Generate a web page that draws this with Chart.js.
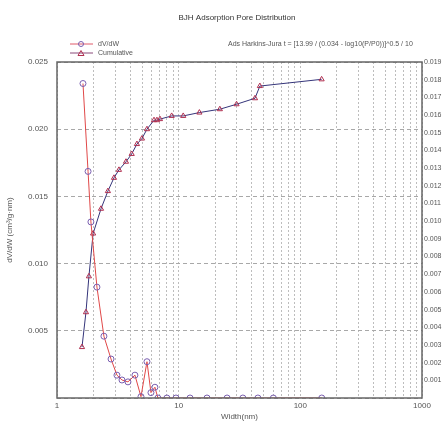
<!DOCTYPE html>
<html>
<head>
<meta charset="utf-8">
<script src="https://cdn.jsdelivr.net/npm/chart.js@4/dist/chart.umd.min.js"></script>
<style>
  html, body { margin: 0; padding: 0; background: #fff; }
  #wrap { width: 445px; height: 424px; position: relative; }
</style>
</head>
<body>
<div id="wrap"><canvas id="poreChart"></canvas></div>
<script>
  'use strict';

  // BJH adsorption pore distribution
  var titleText = 'BJH Adsorption Pore Distribution';
  var noteText = 'Ads Harkins-Jura t = [13.99 / (0.034 - log10(P/P0))]^0.5 / 10';

  var dvdwWidth = [1.635, 1.80, 1.90, 2.13, 2.43, 2.78, 3.11, 3.42, 3.83, 4.37, 4.90, 5.49, 5.92, 6.38,
    6.75, 8.0, 9.5, 12.4, 17.1, 25, 33.7, 44.8, 60, 150];
  var dvdwValues = [0.0234, 0.01686, 0.0131, 0.00825, 0.0046, 0.0029, 0.0017, 0.00134, 0.0012, 0.0017,
    0.0001, 0.0027, 0.0004, 0.0008, 0, 0, 0, 0, 0, 0, 0, 0, 0, 0];

  var cumWidth = [1.605, 1.73, 1.83, 1.98, 2.30, 2.62, 2.94, 3.23, 3.69, 4.11, 4.54, 4.99, 5.49, 6.27,
    6.63, 7.02, 8.76, 10.9, 14.8, 21.8, 29.9, 42.4, 46.5, 149.6];
  var cumValues = [0.00288, 0.00485, 0.00688, 0.0093, 0.0107, 0.0117, 0.01245, 0.0129, 0.01336, 0.0138,
    0.01436, 0.01467, 0.0152, 0.01571, 0.01571, 0.01577, 0.01595, 0.01595, 0.01614, 0.01633, 0.01661,
    0.01695, 0.01764, 0.01802];

  var xTickValues = [1, 2, 3, 4, 5, 6, 7, 8, 9, 10, 20, 30, 40, 50, 60, 70, 80, 90,
    100, 200, 300, 400, 500, 600, 700, 800, 900, 1000];
  var xTickLabels = { 1: '1', 10: '10', 100: '100', 1000: '1000' };

  function pairs(xs, ys) {
    return xs.map(function (x, i) { return { x: x, y: ys[i] }; });
  }

  var textColor = '#555';
  var font = { family: 'Liberation Sans, Arial, sans-serif', size: 8 };

  var decorPlugin = {
    id: 'decor',
    afterDraw: function (chart) {
      var c = chart.ctx;
      var a = chart.chartArea;
      c.save();
      // frame
      c.strokeStyle = '#666';
      c.lineWidth = 1.5;
      c.strokeRect(a.left, a.top, a.right - a.left, a.bottom - a.top);

      c.fillStyle = '#333';
      c.font = '8px ' + font.family;
      c.textBaseline = 'middle';
      c.textAlign = 'center';
      c.fillText(titleText, 237, 18);

      c.fillStyle = textColor;
      c.font = '7px ' + font.family;
      c.textAlign = 'left';
      c.fillText(noteText, 228, 44);

      // legend
      c.lineWidth = 1;
      c.strokeStyle = '#e05a6a';
      c.beginPath(); c.moveTo(70, 44); c.lineTo(93, 44); c.stroke();
      c.strokeStyle = '#7a5fb0';
      c.beginPath(); c.arc(81, 44, 2.5, 0, Math.PI * 2); c.stroke();
      c.strokeStyle = '#8a4a7a';
      c.beginPath(); c.moveTo(70, 53); c.lineTo(93, 53); c.stroke();
      c.strokeStyle = '#b03050';
      c.beginPath(); c.moveTo(81, 50.5); c.lineTo(84, 55.5); c.lineTo(78, 55.5); c.closePath(); c.stroke();
      c.fillStyle = textColor;
      c.fillText('dV/dW', 98, 44);
      c.fillText('Cumulative', 98, 53);
      c.restore();
    }
  };

  new Chart(document.getElementById('poreChart'), {
    type: 'line',
    data: {
      datasets: [
        {
          label: 'dV/dW',
          data: pairs(dvdwWidth, dvdwValues),
          yAxisID: 'y',
          borderColor: '#e04848',
          borderWidth: 1,
          pointStyle: 'circle',
          pointRadius: 3,
          pointBorderColor: '#7a5fb0',
          pointBackgroundColor: 'rgba(255,255,255,0)',
          pointBorderWidth: 1,
          tension: 0,
          fill: false
        },
        {
          label: 'Cumulative',
          data: pairs(cumWidth, cumValues),
          yAxisID: 'y2',
          borderColor: '#35357a',
          borderWidth: 1,
          pointStyle: 'triangle',
          pointRadius: 3,
          pointBorderColor: '#b03050',
          pointBackgroundColor: 'rgba(255,255,255,0)',
          pointBorderWidth: 1,
          tension: 0,
          fill: false
        }
      ]
    },
    options: {
      responsive: true,
      maintainAspectRatio: false,
      animation: false,
      layout: { padding: { top: 62, left: 0, right: 0, bottom: 0 } },
      plugins: {
        legend: { display: false },
        title: { display: false },
        tooltip: { enabled: false }
      },
      scales: {
        x: {
          type: 'logarithmic',
          min: 1,
          max: 1000,
          afterBuildTicks: function (scale) {
            scale.ticks = xTickValues.map(function (v) { return { value: v }; });
          },
          afterFit: function (scale) { scale.height = 26; },
          ticks: {
            autoSkip: false,
            maxRotation: 0,
            padding: 3,
            color: textColor,
            font: font,
            callback: function (v) { return xTickLabels[v] || ''; }
          },
          grid: { color: '#bdbdbd', drawTicks: false, lineWidth: 1 },
          border: { display: false, dash: [2, 2] },
          title: { display: true, text: 'Width(nm)', color: textColor, font: font, padding: { top: 0, bottom: 2 } }
        },
        y: {
          position: 'left',
          min: 0,
          max: 0.025,
          afterBuildTicks: function (scale) {
            scale.ticks = [0, 0.005, 0.01, 0.015, 0.02, 0.025].map(function (v) { return { value: v }; });
          },
          afterFit: function (scale) { scale.width = 57; },
          ticks: {
            padding: 9,
            color: textColor,
            font: font,
            callback: function (v) { return v === 0 ? '' : v.toFixed(3); }
          },
          grid: { color: '#a8a8a8', drawTicks: false, lineWidth: 1 },
          border: { display: false, dash: [4, 3] },
          title: { display: true, text: 'dV/dW (cm³/g·nm)', color: textColor, font: font, padding: { top: 5, bottom: 0 } }
        },
        y2: {
          position: 'right',
          min: 0,
          max: 0.019,
          afterBuildTicks: function (scale) {
            var t = [];
            for (var i = 0; i <= 19; i++) t.push({ value: i / 1000 });
            scale.ticks = t;
          },
          afterFit: function (scale) { scale.width = 23; },
          ticks: {
            padding: 2,
            color: textColor,
            font: { family: font.family, size: 7 },
            callback: function (v) { return v < 0.0005 ? '' : v.toFixed(3); }
          },
          grid: { drawOnChartArea: false, drawTicks: false },
          border: { display: false }
        }
      }
    },
    plugins: [decorPlugin]
  });
</script>
</body>
</html>
